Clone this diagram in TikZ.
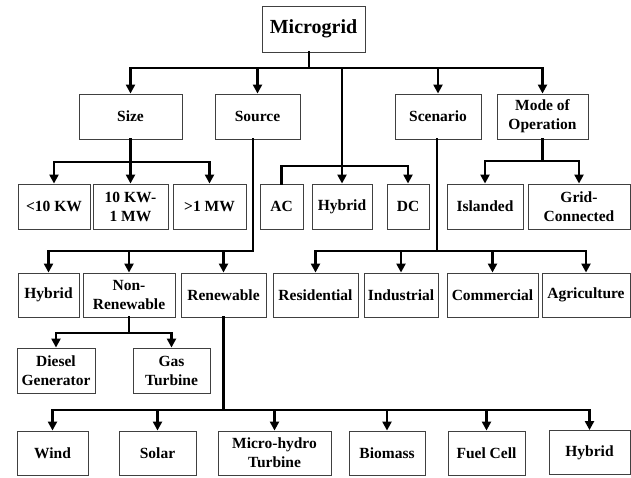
\documentclass[tikz,border=0pt]{standalone}
\usepackage{fontspec}
\setmainfont{Liberation Serif}
\usetikzlibrary{arrows.meta}

\begin{document}
\begin{tikzpicture}[x=1pt, y=-1pt,
    box/.style={draw=black!75, line width=0.9pt, minimum height=45pt, inner sep=1pt, align=center,
        font=\fontsize{15.5}{19}\selectfont\bfseries},
    line/.style={line width=2.5pt, line cap=rect},
    arr/.style={line width=2.5pt, -{Triangle[length=9pt,width=9pt]}}
]
\useasboundingbox (0,0) rectangle (631,477);

\node[box, minimum width=103pt, minimum height=46pt, font=\fontsize{20}{24}\selectfont\bfseries] (micro) at (313.5,29) {Microgrid};

\node[box, minimum width=103pt] (size) at (130.5,116.5) {Size};
\node[box, minimum width=85pt] (source) at (257.5,116.5) {Source};
\node[box, minimum width=86pt] (scen) at (438,116.5) {Scenario};
\node[box, minimum width=91pt] (mode) at (542.5,116.5) {Mode of\\Operation};

\node[box, minimum width=72pt] (lt10) at (54,206.5) {<10 KW};
\node[box, minimum width=75pt] (mid) at (130.5,206.5) {10 KW-\\1 MW};
\node[box, minimum width=73pt] (gt1) at (209.5,206.5) {>1 MW};
\node[box, minimum width=43pt] (ac) at (281.5,206.5) {AC};
\node[box, minimum width=60pt] (hyba) at (342,206.5) {Hybrid};
\node[box, minimum width=42pt] (dc) at (408,206.5) {DC};
\node[box, minimum width=76pt] (isl) at (485,206.5) {Islanded};
\node[box, minimum width=102pt] (grid) at (579,206.5) {Grid-\\Connected};

\node[box, minimum width=61pt, minimum height=44pt] (hybb) at (48.5,295) {Hybrid};
\node[box, minimum width=92pt, minimum height=44pt] (nonren) at (129,295) {Non-\\Renewable};
\node[box, minimum width=85pt, minimum height=44pt] (ren) at (223.5,295) {Renewable};
\node[box, minimum width=85pt, minimum height=44pt] (res) at (315.5,295) {Residential};
\node[box, minimum width=74pt, minimum height=44pt] (ind) at (401,295) {Industrial};
\node[box, minimum width=91pt, minimum height=44pt] (com) at (492.5,295) {Commercial};
\node[box, minimum width=88pt, minimum height=44pt] (agr) at (586,295) {Agriculture};

\node[box, minimum width=78pt] (diesel) at (56,370.5) {Diesel\\Generator};
\node[box, minimum width=77pt] (gas) at (171.5,370.5) {Gas\\Turbine};

\node[box, minimum width=71pt, minimum height=44pt] (wind) at (52.5,453) {Wind};
\node[box, minimum width=77pt, minimum height=44pt] (solar) at (157.5,453) {Solar};
\node[box, minimum width=113pt, minimum height=44pt] (mhyd) at (274.5,453) {Micro-hydro\\Turbine};
\node[box, minimum width=76pt, minimum height=44pt] (bio) at (387,453) {Biomass};
\node[box, minimum width=77pt, minimum height=44pt] (fuel) at (486.5,453) {Fuel Cell};
\node[box, minimum width=81pt, minimum height=44pt] (hybc) at (589.5,452.5) {Hybrid};

\coordinate (bus0) at (309,68);
\coordinate (busS) at (130,162);
\coordinate (busT) at (342,166);
\coordinate (busM) at (543,161);
\coordinate (busR) at (253,251);
\coordinate (busC) at (437,251);
\coordinate (busN) at (129,333);
\coordinate (busW) at (223,410);

\draw[line] (micro.south -| bus0) -- (bus0);
\draw[line] (size.north |- bus0) -- (mode.north |- bus0);
\foreach \n in {size,source,scen,mode,hyba}
    \draw[arr] (\n.north |- bus0) -- (\n.north);

\draw[line] (size.south) -- (size.south |- busS);
\draw[line] (lt10.north |- busS) -- (gt1.north |- busS);
\foreach \n in {lt10,mid,gt1}
    \draw[arr] (\n.north |- busS) -- (\n.north);

\draw[line] (ac.north) -- (ac.north |- busT) -- (dc.north |- busT);
\draw[arr] (dc.north |- busT) -- (dc.north);

\draw[line] (mode.south) -- (mode.south |- busM);
\draw[line] (isl.north |- busM) -- (grid.north |- busM);
\foreach \n in {isl,grid}
    \draw[arr] (\n.north |- busM) -- (\n.north);

\draw[line] (source.south -| busR) -- (busR) -- (hybb.north |- busR);
\foreach \n in {hybb,nonren,ren}
    \draw[arr] (\n.north |- busR) -- (\n.north);

\draw[line] (scen.south -| busC) -- (busC);
\draw[line] (res.north |- busC) -- (agr.north |- busC);
\foreach \n in {res,ind,com,agr}
    \draw[arr] (\n.north |- busC) -- (\n.north);

\draw[line] (nonren.south) -- (nonren.south |- busN);
\draw[line] (diesel.north |- busN) -- (gas.north |- busN);
\foreach \n in {diesel,gas}
    \draw[arr] (\n.north |- busN) -- (\n.north);

\draw[line] (ren.south) -- (ren.south |- busW);
\draw[line] (wind.north |- busW) -- (hybc.north |- busW);
\foreach \n in {wind,solar,mhyd,bio,fuel,hybc}
    \draw[arr] (\n.north |- busW) -- (\n.north);
\end{tikzpicture}
\end{document}
